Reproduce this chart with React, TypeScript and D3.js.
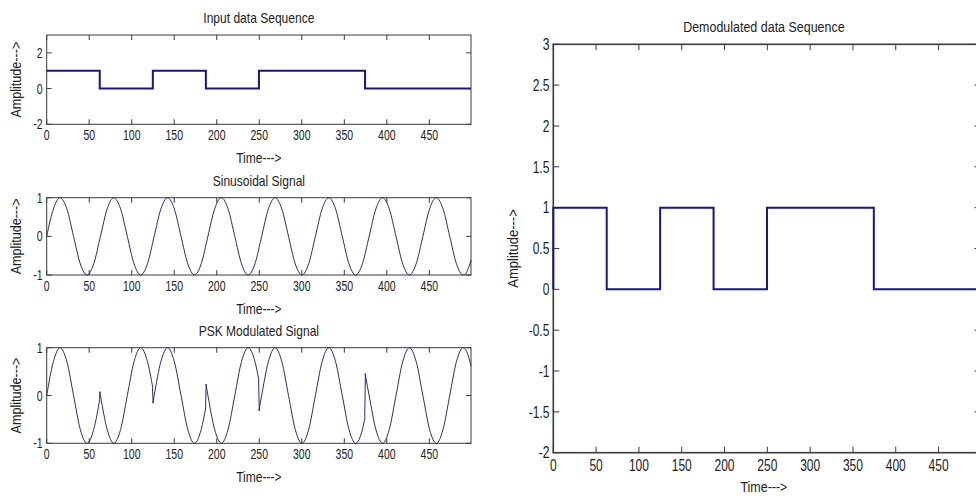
import React from 'react';
import * as d3 from 'd3';

// bit stream and its boundaries on the time axis
const bits = [1, 0, 1, 0, 1, 1, 0, 0];
const demodBits = [1, 0, 1, 0, 1, 1, 0, 0];
const bitEdges = [0, 62.4, 124.8, 187.2, 249.6, 312, 374.4, 436.8, 499];

// carrier (peaks / zero crossings / mid points)
const sineT = [0, 7.9, 15.8, 23.7, 31.6, 39.5, 47.4, 55.3, 63.2, 71.1, 79, 86.9, 94.8, 102.7, 110.6, 118.5,
  126.4, 134.3, 142.2, 150.1, 158, 165.9, 173.8, 181.7, 189.6, 197.5, 205.4, 213.3, 221.2, 229.1, 237, 244.9,
  252.8, 260.7, 268.6, 276.5, 284.4, 292.3, 300.2, 308.1, 316, 323.9, 331.8, 339.7, 347.6, 355.5, 363.4, 371.3,
  379.2, 387.1, 395, 402.9, 410.8, 418.7, 426.6, 434.5, 442.4, 450.3, 458.2, 466.1, 474, 481.9, 489.8, 497.7, 499];
const sineV = [0, 0.71, 1, 0.71, 0, -0.71, -1, -0.71, 0, 0.71, 1, 0.71, 0, -0.71, -1, -0.71,
  0, 0.71, 1, 0.71, 0, -0.71, -1, -0.71, 0, 0.71, 1, 0.71, 0, -0.71, -1, -0.71,
  0, 0.71, 1, 0.71, 0, -0.71, -1, -0.71, 0, 0.71, 1, 0.71, 0, -0.71, -1, -0.71,
  0, 0.71, 1, 0.71, 0, -0.71, -1, -0.71, 0, 0.71, 1, 0.71, 0, -0.71, -1, -0.71, -0.61];

// PSK signal; a repeated time marks the phase jump at a bit boundary
const pskT = [0, 7.9, 15.8, 23.7, 31.6, 39.5, 47.4, 55.3, 62.4,
  62.4, 63.2, 71.1, 79, 86.9, 94.8, 102.7, 110.6, 118.5, 124.8,
  124.8, 126.4, 134.3, 142.2, 150.1, 158, 165.9, 173.8, 181.7, 187.2,
  187.2, 189.6, 197.5, 205.4, 213.3, 221.2, 229.1, 237, 244.9, 249.6,
  249.6, 252.8, 260.7, 268.6, 276.5, 284.4, 292.3, 300.2, 308.1, 316, 323.9, 331.8, 339.7, 347.6, 355.5, 363.4, 371.3, 374.4,
  374.4, 379.2, 387.1, 395, 402.9, 410.8, 418.7, 426.6, 434.5, 442.4, 450.3, 458.2, 466.1, 474, 481.9, 489.8, 497.7, 499];
const pskV = [0, 0.71, 1, 0.71, 0, -0.71, -1, -0.71, -0.08,
  0.08, 0, -0.71, -1, -0.71, 0, 0.71, 1, 0.71, 0.16,
  -0.16, 0, 0.71, 1, 0.71, 0, -0.71, -1, -0.71, -0.24,
  0.24, 0, -0.71, -1, -0.71, 0, 0.71, 1, 0.71, 0.32,
  -0.32, 0, 0.71, 1, 0.71, 0, -0.71, -1, -0.71, 0, 0.71, 1, 0.71, 0, -0.71, -1, -0.71, -0.46,
  0.46, 0, -0.71, -1, -0.71, 0, 0.71, 1, 0.71, 0, -0.71, -1, -0.71, 0, 0.71, 1, 0.71, 0.61];

const xTicks = [0, 50, 100, 150, 200, 250, 300, 350, 400, 450];
const yTicksInput = [-2, 0, 2];
const yTicksSignal = [-1, 0, 1];
const yTicksDemod = [-2, -1.5, -1, -0.5, 0, 0.5, 1, 1.5, 2, 2.5, 3];

const FONT = '"Liberation Sans", Arial, sans-serif';
const STEP_COLOR = '#16168a';
const WAVE_COLOR = '#2b2b78';
const TEXT = '#222';

type Sc = d3.ScaleLinear<number, number>;

// condensed text, the figure uses a narrow face
function T({ x, y, fs, sx, anchor = 'middle', dy, rot, children }:
  { x: number; y: number; fs: number; sx: number; anchor?: string; dy?: string; rot?: boolean; children: React.ReactNode }) {
  const tr = rot ? `translate(${x},${y}) rotate(-90) scale(${sx},1)` : `translate(${x},${y}) scale(${sx},1)`;
  return <text transform={tr} textAnchor={anchor} dy={dy} fontSize={fs} fill={TEXT}>{children}</text>;
}

type AxesProps = {
  id: string;
  left: number; right: number; top: number; bottom: number;
  yDomain: [number, number];
  yTicks: number[];
  title: string;
  fs: number;
  tfs: number;
  frameW: number;
  tick: number;
  ylabOff: number;
  children: (x: Sc, y: Sc) => React.ReactNode;
};

function Axes({ id, left, right, top, bottom, yDomain, yTicks, title, fs, tfs, frameW, tick, ylabOff, children }: AxesProps) {
  const x = d3.scaleLinear().domain([0, 499]).range([left, right]);
  const y = d3.scaleLinear().domain(yDomain).range([bottom, top]);
  const cx = (left + right) / 2 - (right > 976 ? 3 : 0);
  const frame = '#3a3a3a';
  return (
    <g>
      <clipPath id={id}>
        <rect x={left - 2} y={top - 2} width={right - left + 4} height={bottom - top + 4} />
      </clipPath>
      <rect x={left} y={top} width={right - left} height={bottom - top} fill="none" stroke={frame} strokeWidth={frameW} />
      {xTicks.map(t => (
        <g key={'x' + t}>
          <line x1={x(t)} x2={x(t)} y1={bottom} y2={bottom - tick} stroke={frame} />
          <line x1={x(t)} x2={x(t)} y1={top} y2={top + tick} stroke={frame} />
          <T x={x(t)} y={bottom + fs + 2} fs={fs} sx={0.75}>{t}</T>
        </g>
      ))}
      {yTicks.map(t => (
        <g key={'y' + t}>
          <line x1={left} x2={left + tick} y1={y(t)} y2={y(t)} stroke={frame} />
          <line x1={right} x2={right - tick} y1={y(t)} y2={y(t)} stroke={frame} />
          <T x={left - 4} y={y(t)} dy="0.36em" anchor="end" fs={fs} sx={0.75}>{String(t)}</T>
        </g>
      ))}
      <g clipPath={`url(#${id})`}>{children(x, y)}</g>
      <T x={cx} y={top - 12} fs={tfs} sx={0.86}>{title}</T>
      <T x={cx} y={bottom + 39} fs={tfs} sx={0.86}>Time---&gt;</T>
      <T x={left - ylabOff} y={(top + bottom) / 2} fs={tfs} sx={0.9} rot>Amplitude---&gt;</T>
    </g>
  );
}

function stepPath(x: Sc, y: Sc, vals: number[], fromZero: boolean) {
  const pts: [number, number][] = [];
  if (fromZero) pts.push([0, 0]);
  vals.forEach((v, i) => pts.push([bitEdges[i], v]));
  pts.push([bitEdges[bitEdges.length - 1], vals[vals.length - 1]]);
  return d3.line<[number, number]>().x(d => x(d[0])).y(d => y(d[1])).curve(d3.curveStepAfter)(pts) || '';
}

function wavePaths(x: Sc, y: Sc, ts: number[], vs: number[]) {
  // split into runs at repeated times; runs are smooth, jumps are straight
  const runs: [number, number][][] = [[]];
  ts.forEach((t, i) => {
    if (i > 0 && t === ts[i - 1]) runs.push([]);
    runs[runs.length - 1].push([t, vs[i]]);
  });
  const smooth = d3.line<[number, number]>().x(d => x(d[0])).y(d => y(d[1])).curve(d3.curveMonotoneX);
  const straight = d3.line<[number, number]>().x(d => x(d[0])).y(d => y(d[1]));
  const out: string[] = runs.map(r => smooth(r) || '');
  for (let i = 1; i < runs.length; i++) {
    const a = runs[i - 1][runs[i - 1].length - 1];
    const b = runs[i][0];
    out.push(straight([[a[0] - 0.4, a[1]], [b[0] + 0.4, b[1]]]) || '');
  }
  return out;
}

export default function App() {
  return (
    <div style={{ position: 'absolute', left: 0, top: 0, width: 976, height: 496, overflow: 'hidden', background: '#fff' }}>
      <svg width={976} height={496} style={{ display: 'block', fontFamily: FONT }}>
        <rect width={976} height={496} fill="#fff" />
        <Axes id="c1" left={46.7} right={471} top={35} bottom={124.3} yDomain={[-2, 3]} yTicks={yTicksInput}
          title="Input data Sequence" fs={14} tfs={14} frameW={1} tick={5} ylabOff={26}>
          {(x, y) => <path d={stepPath(x, y, bits, false)} fill="none" stroke={STEP_COLOR} strokeWidth={2} />}
        </Axes>
        <Axes id="c2" left={46.7} right={471} top={197.7} bottom={275} yDomain={[-1, 1]} yTicks={yTicksSignal}
          title="Sinusoidal Signal" fs={14} tfs={14} frameW={1} tick={5} ylabOff={26}>
          {(x, y) => wavePaths(x, y, sineT, sineV).map((d, i) =>
            <path key={i} d={d} fill="none" stroke={WAVE_COLOR} strokeWidth={1} />)}
        </Axes>
        <Axes id="c3" left={46.7} right={471} top={347.7} bottom={443.3} yDomain={[-1, 1]} yTicks={yTicksSignal}
          title="PSK Modulated Signal" fs={14} tfs={14} frameW={1} tick={5} ylabOff={26}>
          {(x, y) => wavePaths(x, y, pskT, pskV).map((d, i) =>
            <path key={i} d={d} fill="none" stroke={WAVE_COLOR} strokeWidth={1} />)}
        </Axes>
        <Axes id="c4" left={553.3} right={980.5} top={44.3} bottom={452.7} yDomain={[-2, 3]} yTicks={yTicksDemod}
          title="Demodulated data Sequence" fs={16} tfs={14.5} frameW={1.6} tick={6} ylabOff={35}>
          {(x, y) => <path d={stepPath(x, y, demodBits, true)} fill="none" stroke={STEP_COLOR} strokeWidth={2} />}
        </Axes>
      </svg>
    </div>
  );
}
